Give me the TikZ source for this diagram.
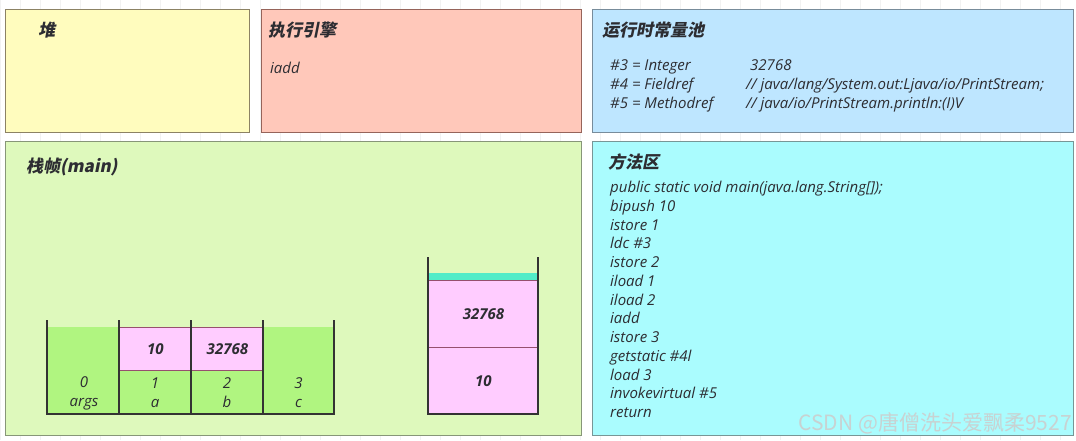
\documentclass[tikz,border=0pt]{standalone}
\usepackage{fontspec}
\setmainfont{Open Sans}
\newfontfamily\cjk[FakeSlant=0.2]{Noto Sans CJK SC}
\newfontfamily\wmfont{Noto Sans CJK SC}
\definecolor{heapfill}{RGB}{255,252,190}
\definecolor{heapdraw}{RGB}{140,130,100}
\definecolor{execfill}{RGB}{255,200,186}
\definecolor{execdraw}{RGB}{150,100,90}
\definecolor{poolfill}{RGB}{190,230,255}
\definecolor{pooldraw}{RGB}{120,140,155}
\definecolor{framefill}{RGB}{222,249,188}
\definecolor{framedraw}{RGB}{135,150,120}
\definecolor{methfill}{RGB}{170,252,254}
\definecolor{methdraw}{RGB}{120,150,150}
\definecolor{slotgreen}{RGB}{176,245,128}
\definecolor{slotpink}{RGB}{255,204,255}
\definecolor{pinkline}{RGB}{150,80,110}
\definecolor{teal}{RGB}{80,236,200}
\definecolor{txt}{RGB}{45,45,50}
\definecolor{wmcol}{RGB}{200,210,210}
\begin{document}
\begin{tikzpicture}[x=1pt,y=-1pt,
  region/.style={draw=#1, line width=1pt, anchor=north west, inner sep=0pt},
  title/.style={anchor=west, inner sep=0pt, text=txt, font=\cjk\bfseries\fontsize{17}{19}\selectfont},
  code/.style={anchor=base west, inner sep=0pt, text=txt, font=\itshape\fontsize{15}{17}\selectfont},
  num/.style={text=txt, font=\itshape\bfseries\fontsize{15}{17}\selectfont},
  slotlabel/.style={text=txt, align=center, inner sep=0pt, font=\itshape\fontsize{15}{19}\selectfont},
  pinkcell/.style={fill=slotpink, draw=pinkline, line width=0.8pt, anchor=north west, inner sep=0pt},
  wall/.style={draw=black!80, line width=1.6pt},
  gridline/.style={draw=black!5, line width=0.4pt}
]
\useasboundingbox (0,0) rectangle (1076,440);
\fill[white] (0,0) rectangle (1076,440);
\draw[gridline] (0,0) grid[step=20] (1076,440);

% regions
\node[region=heapdraw, fill=heapfill, minimum width=244, minimum height=123] (heap) at (5,9) {};
\node[region=execdraw, fill=execfill, minimum width=320, minimum height=123] (exec) at (261,9) {};
\node[region=pooldraw, fill=poolfill, minimum width=481, minimum height=123] (pool) at (592,9) {};
\node[region=framedraw, fill=framefill, minimum width=576, minimum height=294] (frame) at (5,141) {};
\node[region=methdraw, fill=methfill, minimum width=481, minimum height=294] (meth) at (592,141) {};

% titles
\node[title] (heapT) at (38,30) {堆};
\node[title] (execT) at (268,30) {执行引擎};
\node[title] (poolT) at (602,30) {运行时常量池};
\node[title] (frameT) at (26,167) {栈帧(main)};
\node[title] (methT) at (608,162) {方法区};

% execution engine
\node[code] (iaddE) at (270,73) {iadd};

% constant pool
\node[code] (p3) at (610,70.5) {\#3 = Integer};
\node[code] (p3v) at (750,70.5) {32768};
\node[code] (p4) at (610,89.5) {\#4 = Fieldref};
\node[code] (p4v) at (746,89.5) {// java/lang/System.out:Ljava/io/PrintStream;};
\node[code] (p5) at (610,108.5) {\#5 = Methodref};
\node[code] (p5v) at (746,108.5) {// java/io/PrintStream.println:(I)V};

% method area
\foreach \t [count=\i from 0] in {public static void main(java.lang.String[]);, bipush 10, istore 1, ldc \#3, istore 2, iload 1, iload 2, iadd, istore 3, getstatic \#4l, load 3, invokevirtual \#5, return}
  \node[code] (m\i) at (610,{192.5+18.75*\i}) {\t};

% local variable table
\node[fill=slotgreen, anchor=north west, inner sep=0pt, minimum width=287, minimum height=87] (lvt) at (47,327) {};
\node[pinkcell, minimum width=72, minimum height=43] (cellA) at (119,327) {};
\node[pinkcell, minimum width=72, minimum height=43] (cellB) at (191,327) {};
\node[num] (vA) at (cellA.center) {10};
\node[num] (vB) at (cellB.center) {32768};
\node[slotlabel] (s0) at (84,393) {0\\args};
\node[slotlabel] (s1) at (155,393) {1\\a};
\node[slotlabel] (s2) at (227,393) {2\\b};
\node[slotlabel] (s3) at (298.5,393) {3\\c};
\draw[wall] (47,320) -- (47,414) -- (334,414) -- (334,320);
\draw[wall] (119,320) -- (119,414);
\draw[wall] (191,320) -- (191,414);
\draw[wall] (263,320) -- (263,414);

% operand stack
\node[fill=teal, anchor=north west, inner sep=0pt, minimum width=110, minimum height=7] (stTop) at (428,273) {};
\node[pinkcell, minimum width=110, minimum height=67] (st1) at (428,280) {};
\node[pinkcell, minimum width=110, minimum height=67] (st0) at (428,347) {};
\node[num] (st1v) at (st1.center) {32768};
\node[num] (st0v) at (st0.center) {10};
\draw[wall] (428,257) -- (428,414) -- (538,414) -- (538,257);

% watermark
\node[anchor=east, inner sep=0pt, text=wmcol, font=\wmfont\fontsize{21}{23}\selectfont] (wm) at (1072,423) {CSDN @唐僧洗头爱飘柔9527};
\end{tikzpicture}
\end{document}
